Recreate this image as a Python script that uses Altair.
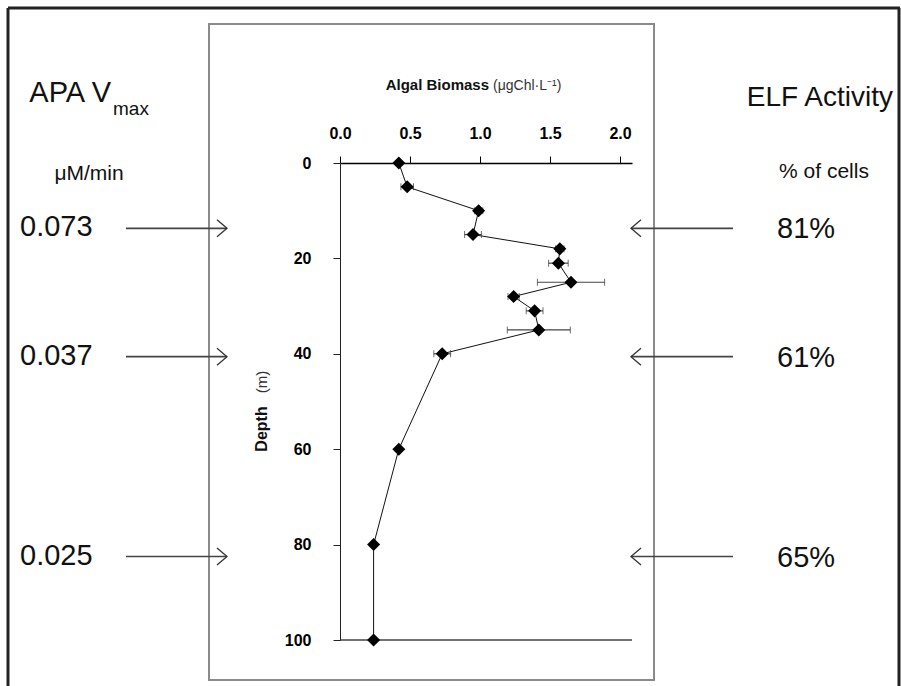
import altair as alt
import pandas as pd

# ---- data ----
depth_m = [0, 5, 10, 15, 18, 21, 25, 28, 31, 35, 40, 60, 80, 100]
biomass = [0.42, 0.48, 0.99, 0.95, 1.57, 1.56, 1.65, 1.24, 1.39, 1.42, 0.73, 0.42, 0.24, 0.24]
biomass_err = [0.0, 0.045, 0.03, 0.06, 0.03, 0.07, 0.24, 0.04, 0.06, 0.225, 0.06, 0.0, 0.0, 0.0]

arrow_depths = [13.7, 40.6, 82.5]
apa_values = ["0.073", "0.037", "0.025"]
elf_values = ["81%", "61%", "65%"]

x_ticks = [0.0, 0.5, 1.0, 1.5, 2.0]
y_ticks = [0, 20, 40, 60, 80, 100]
x_max = 2.0857

FONT = "Liberation Sans, Arial, sans-serif"

df = pd.DataFrame({"depth": depth_m, "biomass": biomass, "err": biomass_err})
df["lo"] = df["biomass"] - df["err"]
df["hi"] = df["biomass"] + df["err"]
df_err = df[df["err"] > 0]

ann = pd.DataFrame({"adepth": arrow_depths, "apa": apa_values, "elf": elf_values})
one = pd.DataFrame({"k": [0]})

xscale = alt.Scale(domain=[0, x_max], nice=False, zero=False)
yscale = alt.Scale(domain=[0, 100], reverse=True, nice=False)

X = alt.X("biomass:Q", scale=xscale,
          axis=alt.Axis(orient="top", values=x_ticks, format=".1f", title=None,
                        grid=False, domainColor="black", domainWidth=1.5,
                        tickColor="black", tickSize=7, tickWidth=1, zindex=1,
                        labelFont=FONT, labelFontSize=16, labelFontWeight="bold",
                        labelColor="black", labelPadding=15, labelFlush=False))
Y = alt.Y("depth:Q", scale=yscale,
          axis=alt.Axis(orient="left", values=y_ticks, title=None, grid=False,
                        domainColor="#222", domainWidth=1, zindex=1,
                        tickColor="#222", tickSize=7, tickWidth=1,
                        labelFont=FONT, labelFontSize=16, labelFontWeight="bold",
                        labelColor="black", labelPadding=22, labelFlush=False))

line = alt.Chart(df).mark_line(color="#111", strokeWidth=1).encode(
    x=X, y=Y, order="depth:Q")

bottom_rule = alt.Chart(one).mark_rule(color="#444", strokeWidth=1.6).encode(
    x=alt.XDatum(0, scale=xscale, axis=None), x2=alt.X2Datum(x_max),
    y=alt.YDatum(100, scale=yscale, axis=None))

err_rule = alt.Chart(df_err).mark_rule(color="#444", strokeWidth=1.2).encode(
    x=alt.X("lo:Q", scale=xscale, axis=None), x2="hi:Q",
    y=alt.Y("depth:Q", scale=yscale, axis=None))
cap_lo = alt.Chart(df_err).mark_tick(orient="vertical", size=7, thickness=1, color="#333").encode(
    x=alt.X("lo:Q", scale=xscale, axis=None), y=alt.Y("depth:Q", scale=yscale, axis=None))
cap_hi = alt.Chart(df_err).mark_tick(orient="vertical", size=7, thickness=1, color="#333").encode(
    x=alt.X("hi:Q", scale=xscale, axis=None), y=alt.Y("depth:Q", scale=yscale, axis=None))

points = alt.Chart(df).mark_point(shape="diamond", filled=True, size=170,
                                  color="black", opacity=1).encode(
    x=alt.X("biomass:Q", scale=xscale, axis=None),
    y=alt.Y("depth:Q", scale=yscale, axis=None))

# ---- frames ----
frame_top = alt.Chart(one).mark_rule(color="#222", strokeWidth=3).encode(
    x=alt.value(-332), x2=alt.value(560), y=alt.value(-155))
frame_left = alt.Chart(one).mark_rule(color="#222", strokeWidth=3).encode(
    x=alt.value(-332), y=alt.value(-155), y2=alt.value(530))
frame_right = alt.Chart(one).mark_rule(color="#222", strokeWidth=3).encode(
    x=alt.value(559), y=alt.value(-155), y2=alt.value(530))
inner_box = alt.Chart(one).mark_rect(fillOpacity=0, stroke="#8a8a8a", strokeWidth=2).encode(
    x=alt.value(-131), x2=alt.value(314), y=alt.value(-139), y2=alt.value(517))

# ---- arrows ----
AY = alt.Y("adepth:Q", scale=yscale, axis=None)
larrow = alt.Chart(ann).mark_rule(color="#444", strokeWidth=1.6).encode(
    x=alt.value(-214), x2=alt.value(-113), y=AY)
lhead = alt.Chart(ann).mark_point(shape="M-1,-0.85L0,0L-1,0.85", filled=False, size=400,
                                  color="#333", strokeWidth=1.3, opacity=1).encode(
    x=alt.value(-113), y=AY)
rarrow = alt.Chart(ann).mark_rule(color="#444", strokeWidth=1.6).encode(
    x=alt.value(291), x2=alt.value(393), y=AY)
rhead = alt.Chart(ann).mark_point(shape="M1,-0.85L0,0L1,0.85", filled=False, size=400,
                                  color="#333", strokeWidth=1.3, opacity=1).encode(
    x=alt.value(291), y=AY)

apa_txt = alt.Chart(ann).mark_text(font=FONT, fontSize=29, align="left", baseline="middle",
                                   color="#111", dy=-1).encode(
    x=alt.value(-320), y=AY, text="apa:N")
elf_txt = alt.Chart(ann).mark_text(font=FONT, fontSize=29, align="left", baseline="middle",
                                   color="#111", dy=1).encode(
    x=alt.value(437), y=AY, text="elf:N")

def label(txt, x, y, size, align="left", weight="normal", angle=0, baseline="alphabetic", color="#111"):
    return alt.Chart(one).mark_text(text=txt, font=FONT, fontSize=size, align=align,
                                    baseline=baseline, fontWeight=weight, angle=angle,
                                    color=color).encode(x=alt.value(x), y=alt.value(y))

texts = [
    label("APA V", -229, -61, 29, align="right"),
    label("max", -227, -48, 19),
    label("μM/min", -251, 17, 21, align="center"),
    label("ELF Activity", 553, -57, 28, align="right"),
    label("% of cells", 484, 15, 21, align="center"),
    label("Algal Biomass", 149, -73, 15, align="right", weight="bold"),
    label("(μgChl·L⁻¹)", 153, -73, 14, color="#333"),
    label("Depth", -78, 266, 16, align="center", weight="bold", angle=270, baseline="middle"),
    label("(m)", -78, 219, 15, align="center", angle=270, baseline="middle", color="#333"),
]

chart = alt.layer(
    line, frame_top, frame_left, frame_right, inner_box,
    bottom_rule, err_rule, cap_lo, cap_hi, points,
    larrow, lhead, rarrow, rhead, apa_txt, elf_txt, *texts
).resolve_axis(x="independent", y="independent").properties(
    width=292, height=477,
    autosize=alt.AutoSizeParams(type="none"),
    padding={"left": 340, "top": 163, "right": 269, "bottom": 46},
    background="white",
).configure_view(strokeWidth=0)

chart.save("out.html", embed_options={"renderer": "svg", "actions": False})
